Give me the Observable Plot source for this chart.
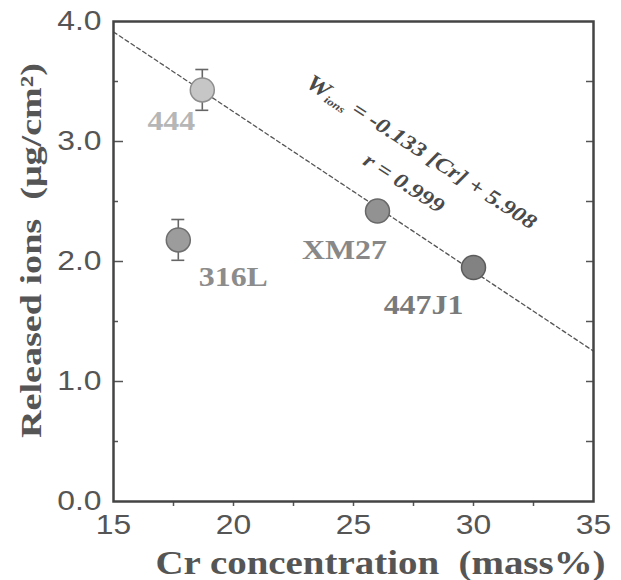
<!DOCTYPE html>
<html>
<head>
<meta charset="utf-8">
<script src="https://cdn.jsdelivr.net/npm/d3@7"></script>
<script src="https://cdn.jsdelivr.net/npm/@observablehq/plot@0.6"></script>
<style>
  html, body { margin: 0; padding: 0; background: #fff; }
</style>
</head>
<body>
<div id="chart"></div>
<script>
// ---- data ----
const alloys = ["444", "316L", "XM27", "447J1"];
const crConc = [18.7, 17.7, 26.0, 30.0];          // Cr concentration (mass%)
const releasedIons = [3.43, 2.18, 2.42, 1.95];    // µg/cm²
const errHalf = [0.17, 0.17, 0, 0];
const fitSlope = -0.133;
const fitIntercept = 5.908;
const fitRange = [15, 35];
const xTicks = [15, 20, 25, 30, 35];
const yTicks = [0, 1, 2, 3, 4];
const eqText = "W|ions| = -0.133 [Cr] + 5.908";
const rText = "r = 0.999";
const xTitle = "Cr concentration  (mass%)";
const yTitle = "Released ions  (μg/cm²)";

// ---- styles ----
const fills = {"444": "#c6c6c6", "316L": "#9c9c9c", "XM27": "#929292", "447J1": "#828282"};
const strokes = {"444": "#8e8e8e", "316L": "#6e6e6e", "XM27": "#686868", "447J1": "#5c5c5c"};
const labelColors = {"444": "#b6b6b6", "316L": "#8c8c8c", "XM27": "#888888", "447J1": "#7a7a7a"};
const labelOffsets = {"444": [-31, 31], "316L": [55, 37], "XM27": [-33, 39], "447J1": [-50, 38]};

const points = alloys.map((a, i) => ({alloy: a, x: crConc[i], y: releasedIons[i], e: errHalf[i]}));
const errPts = points.filter(d => d.e > 0);
const fitLine = fitRange.map(x => ({x, y: fitSlope * x + fitIntercept}));
const capHalf = 0.27;

// annotation anchors placed relative to the fit line
const eqX = 27.8, rX = 27.1;
const annots = [
  {t: eqText, x: eqX, y: fitSlope * eqX + fitIntercept + 0.69},
  {t: rText, x: rX, y: fitSlope * rX + fitIntercept + 0.35}
];

const serif = "'Liberation Serif', 'DejaVu Serif', serif";
const sans = "'Liberation Sans', Arial, sans-serif";

const labelMarks = points.map(p => Plot.text([p], {
  x: "x", y: "y", text: "alloy",
  dx: labelOffsets[p.alloy][0], dy: labelOffsets[p.alloy][1],
  fill: labelColors[p.alloy], fontFamily: serif, fontWeight: "bold", fontSize: 27
}));

const chart = Plot.plot({
  width: 621,
  height: 580,
  marginLeft: 113,
  marginRight: 28,
  marginTop: 21,
  marginBottom: 79,
  x: {domain: [15, 35], label: null},
  y: {domain: [0, 4], label: null},
  style: {fontFamily: sans, fontSize: "27px", color: "#555", background: "#fff"},
  marks: [
    // tick labels
    Plot.axisX({ticks: xTicks, tickSize: 0, tickPadding: 13, tickFormat: d => String(d), fontSize: 27, fill: "#555", label: null}),
    Plot.axisY({ticks: yTicks, tickSize: 0, tickPadding: 12, tickFormat: d => d.toFixed(1), fontSize: 27, fill: "#555", label: null}),
    // tick marks
    Plot.axisX({ticks: d3.range(17.5, 35, 2.5), tickSize: 5, text: null, stroke: "#555", strokeWidth: 1.5, label: null}),
    Plot.axisY({ticks: [1, 2, 3], tickSize: -10, text: null, stroke: "#555", strokeWidth: 1.5, label: null}),
    Plot.axisY({ticks: [0.5, 1.5, 2.5, 3.5], tickSize: -5, text: null, stroke: "#555", strokeWidth: 1.5, label: null}),
    Plot.axisY({anchor: "right", ticks: d3.range(0.5, 4, 0.5), tickSize: -8, text: null, stroke: "#555", strokeWidth: 1.5, label: null}),
    // axis titles
    Plot.text([xTitle], {frameAnchor: "bottom", dy: 62, dx: 27, lineAnchor: "middle", textAnchor: "middle",
      fontFamily: serif, fontWeight: "bold", fontSize: 33, fill: "#555"}),
    Plot.text([yTitle], {frameAnchor: "left", dx: -82, dy: -11, rotate: -90, lineAnchor: "middle", textAnchor: "middle",
      fontFamily: serif, fontWeight: "bold", fontSize: 30, fill: "#555"}),
    // fit line
    Plot.line(fitLine, {x: "x", y: "y", stroke: "#555", strokeWidth: 1.3, strokeDasharray: "4,3"}),
    // error bars
    Plot.ruleX(errPts, {x: "x", y1: d => d.y - d.e, y2: d => d.y + d.e, stroke: "#666", strokeWidth: 1.6}),
    Plot.ruleY(errPts, {y: d => d.y - d.e, x1: d => d.x - capHalf, x2: d => d.x + capHalf, stroke: "#666", strokeWidth: 1.6}),
    Plot.ruleY(errPts, {y: d => d.y + d.e, x1: d => d.x - capHalf, x2: d => d.x + capHalf, stroke: "#666", strokeWidth: 1.6}),
    // points
    Plot.dot(points, {x: "x", y: "y", r: 12, fill: d => fills[d.alloy], stroke: d => strokes[d.alloy], strokeWidth: 1.5}),
    ...labelMarks,
    // annotations
    Plot.text(annots, {x: "x", y: "y", text: "t", rotate: 33, fontFamily: serif, fontWeight: "bold",
      fontStyle: "italic", fontSize: 21, fill: "#4a4a4a"}),
    Plot.frame({stroke: "#444", strokeWidth: 2.5})
  ]
});

document.getElementById("chart").appendChild(chart);

// subscript for W_ions
function subscriptify(node) {
  const t = node.textContent;
  const parts = t.split("|");
  const s = d3.select(node);
  s.text(null);
  s.append("tspan").text(parts[0]).attr("font-size", 23);
  s.append("tspan").text(parts[1]).attr("font-size", 11).attr("dy", "0.25em");
  s.append("tspan").text(parts[2]).attr("dy", "-0.25em");
}
d3.select(chart).selectAll("text").each(function() {
  if (this.textContent.indexOf("|") < 0) return;
  if (this.childElementCount === 0) subscriptify(this);
  else d3.select(this).selectAll("tspan").each(function() {
    if (this.textContent.indexOf("|") >= 0) subscriptify(this);
  });
});

// the reference's lettering is slightly stretched horizontally
const fixedLengths = {[xTitle]: 450, [yTitle]: 375};
d3.select(chart).selectAll("text").each(function() {
  const content = this.textContent;
  const L = this.getComputedTextLength();
  if (!L) return;
  const target = fixedLengths[content] || L * 1.18;
  this.setAttribute("textLength", target);
  this.setAttribute("lengthAdjust", "spacingAndGlyphs");
});
</script>
</body>
</html>
